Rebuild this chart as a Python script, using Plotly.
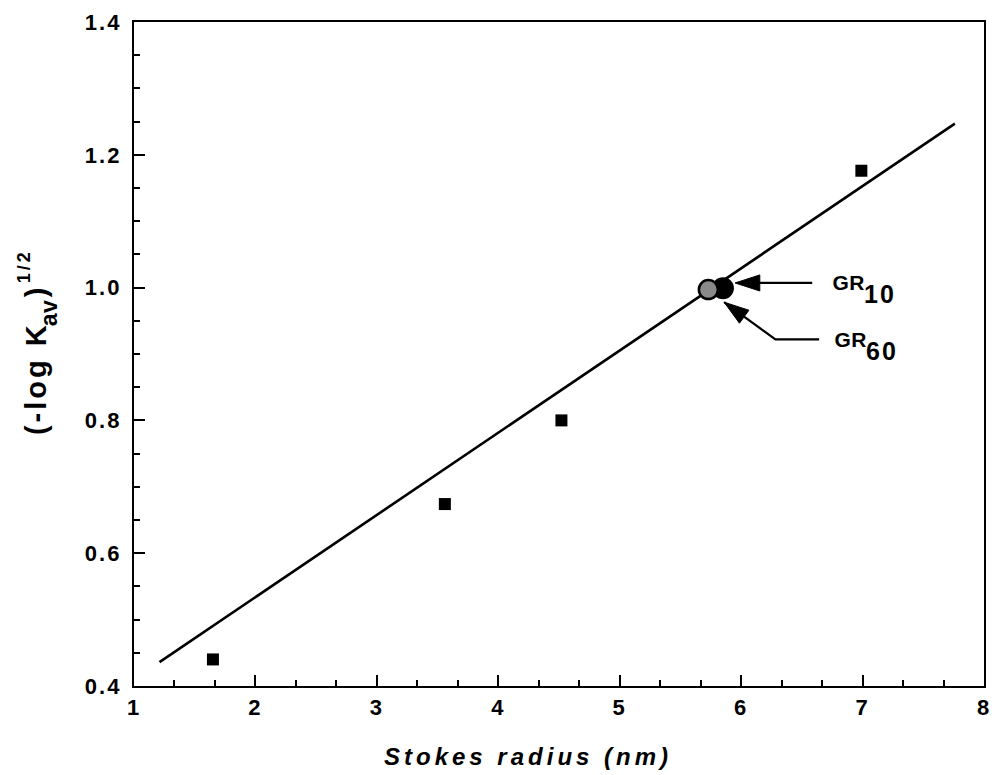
import plotly.graph_objects as go

# Calibration proteins: Stokes radius vs (-log Kav)^1/2
radius_nm = [1.65, 3.56, 4.52, 6.99]
sqrt_neg_log_kav = [0.44, 0.674, 0.80, 1.176]

# Least-squares calibration line (end points)
fit_x = [1.21, 7.76]
fit_y = [0.436, 1.247]

# Receptor forms: GR10 (dark) and GR60 (patterned)
gr_names = ["GR", "GR"]
gr_subscripts = ["10", "60"]
gr_radius = [5.85, 5.73]
gr_kav = [0.999, 0.997]

x_ticks = [1, 2, 3, 4, 5, 6, 7, 8]
y_ticks = [0.4, 0.6, 0.8, 1.0, 1.2, 1.4]

# Callout leader lines (tail ... tip) and label anchors, in axis units
gr10_leader_x = [6.585, 5.95]
gr10_leader_y = [1.007, 1.007]
gr60_leader_x = [6.642, 6.282, 5.86]
gr60_leader_y = [0.922, 0.922, 0.978]
gr_label_pos = [(6.74, 1.008), (6.755, 0.9225)]

# Y-axis title pieces: (text, font size, paper x, paper y), read bottom to top
y_title_parts = [
    ("(-log K", 29, -0.1157, 0.4625),
    ("av", 23, -0.0993, 0.5615),
    (")", 29, -0.1157, 0.5940),
    ("1/2", 18, -0.1289, 0.6320),
]

FONT = "Liberation Sans, Arial, Helvetica, sans-serif"

fig = go.Figure()

fig.add_trace(go.Scatter(
    x=fit_x, y=fit_y, mode="lines",
    line=dict(color="black", width=2.6), hoverinfo="skip",
))
fig.add_trace(go.Scatter(
    x=radius_nm, y=sqrt_neg_log_kav, mode="markers",
    marker=dict(symbol="square", size=12, color="black"),
))
fig.add_trace(go.Scatter(
    x=[gr_radius[0]], y=[gr_kav[0]], mode="markers", name="GR10",
    marker=dict(symbol="circle", size=22, color="black"),
))
fig.add_trace(go.Scatter(
    x=[gr_radius[1]], y=[gr_kav[1]], mode="markers", name="GR60",
    marker=dict(symbol="circle", size=19, color="#8a8a8a",
                line=dict(color="black", width=2.5)),
))


def leader(xs, ys):
    sizes = [0] * (len(xs) - 1) + [26]
    return go.Scatter(
        x=xs, y=ys, mode="lines+markers", hoverinfo="skip",
        line=dict(color="black", width=2.2),
        marker=dict(symbol="arrow", size=sizes, angleref="previous", color="black",
                    opacity=1, line=dict(color="black", width=1)),
    )


fig.add_trace(leader(gr10_leader_x, gr10_leader_y))
fig.add_trace(leader(gr60_leader_x, gr60_leader_y))

# Callout labels: name plus a large lowered subscript
for name, sub, pos in zip(gr_names, gr_subscripts, gr_label_pos):
    fig.add_annotation(x=pos[0], y=pos[1], text=f"<b>{name}</b>",
                       showarrow=False, xanchor="left", yanchor="middle",
                       font=dict(family=FONT, size=21, color="black"))
    fig.add_annotation(x=pos[0], y=pos[1], text=f"<b>{sub}</b>",
                       showarrow=False, xanchor="left", yanchor="middle",
                       xshift=33, yshift=-12,
                       font=dict(family=FONT, size=25, color="black"))

# Rotated y-axis title built from its pieces
for text, size, px, py in y_title_parts:
    fig.add_annotation(xref="paper", yref="paper", x=px, y=py, text=f"<b>{text}</b>",
                       textangle=-90, showarrow=False, xanchor="center", yanchor="middle",
                       font=dict(family=FONT, size=size, color="black"))

fig.add_annotation(xref="paper", yref="paper", x=0.464, y=-0.106,
                   text="<b><i>Stokes radius (nm)</i></b>",
                   showarrow=False, xanchor="center", yanchor="middle",
                   font=dict(family=FONT, size=24, color="black"))

axis_common = dict(
    showgrid=False, zeroline=False, showline=True, linecolor="black", linewidth=2.4,
    mirror=True, ticks="inside", ticklen=11, tickwidth=2, tickcolor="black",
    tickfont=dict(family=FONT, size=22, color="black"),
)

fig.update_xaxes(
    range=[1, 8], tickvals=x_ticks, ticktext=[f"<b>{v}</b>" for v in x_ticks],
    minor=dict(dtick=1 / 3, tick0=1, ticks="inside", ticklen=6, tickwidth=2, tickcolor="black"),
    **axis_common,
)
fig.update_yaxes(
    range=[0.4, 1.4], tickvals=y_ticks, ticktext=[f"<b>{v:.1f}</b>" for v in y_ticks],
    minor=dict(dtick=0.05, tick0=0.4, ticks="inside", ticklen=6, tickwidth=2, tickcolor="black"),
    ticklabelstandoff=6,
    **axis_common,
)

fig.update_layout(
    width=1000, height=775, showlegend=False,
    margin=dict(l=134, r=10, t=19, b=89),
    paper_bgcolor="white", plot_bgcolor="white",
)

# Wide-tracked lettering for the chart text
letter_spacing_js = """
var css = document.createElement('style');
css.textContent = '.main-svg text { letter-spacing: 2px; }';
document.head.appendChild(css);
document.querySelectorAll('.main-svg text').forEach(function (t) {
    var s = t.textContent;
    if (s.indexOf('Stokes') === 0) { t.style.letterSpacing = '4px'; }
    if (s.indexOf('(-log') === 0 || s === '1/2') { t.style.letterSpacing = '3px'; }
    if (s === 'GR' || s === 'av') { t.style.letterSpacing = '0.5px'; }
});
"""

fig.write_html("out.html", post_script=letter_spacing_js)
